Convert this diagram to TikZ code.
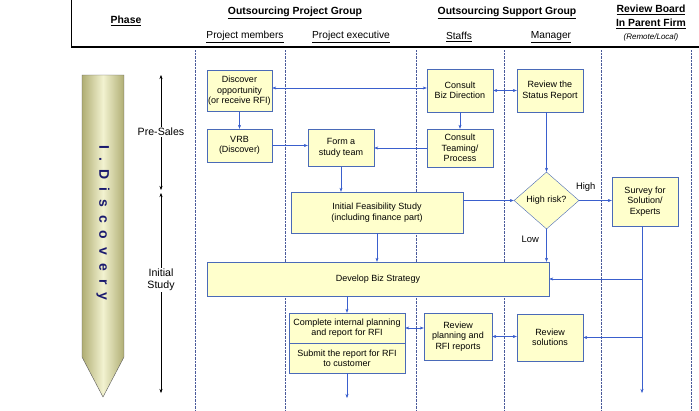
\documentclass[tikz,border=0pt]{standalone}
\usepackage{fontspec}
\setmainfont{Liberation Sans}
\usetikzlibrary{arrows.meta}
\usetikzlibrary{shapes.geometric}

\definecolor{boxfill}{HTML}{FFFFCC}
\definecolor{boxline}{HTML}{4A6AB8}
\definecolor{flowblue}{HTML}{3A5FCD}
\definecolor{laneline}{HTML}{4A5A9A}
\definecolor{pencildark}{HTML}{B0AE74}
\definecolor{pencillight}{HTML}{F2F2D0}
\definecolor{navytext}{HTML}{1A1A6E}

\tikzset{
  stepbox/.style={draw=boxline, fill=boxfill, align=center, inner sep=0pt,
    font=\fontsize{9}{10.4}\selectfont},
  flow/.style={draw=flowblue, -{Stealth[length=4pt,width=3pt]}},
  biflow/.style={draw=flowblue, {Stealth[length=4pt,width=3pt]}-{Stealth[length=4pt,width=3pt]}},
  lane/.style={laneline, densely dotted, thin},
  headtxt/.style={font=\fontsize{10.4}{12}\selectfont\bfseries},
  subtxt/.style={font=\fontsize{10.2}{12}\selectfont},
  rangetxt/.style={font=\fontsize{10.6}{12.5}\selectfont, fill=white, inner sep=1pt, align=center},
}

\begin{document}
\begin{tikzpicture}[x=1pt,y=-1pt]
        \useasboundingbox (0,0) rectangle (699,410);
        % header
        \draw[black] (71,0) -- (71,47);
        \draw[black, line width=1.6pt] (71,47) -- (699,47);
        \node[headtxt] (phase) at (126,21) {\underline{Phase}};
        \node[headtxt] (projgrp) at (295,13) {\underline{Outsourcing Project Group}};
        \node[headtxt] (suppgrp) at (507,13) {\underline{Outsourcing Support Group}};
        \node[headtxt] (board1) at (651,10) {\underline{Review Board}};
        \node[headtxt] (board2) at (651,24) {\underline{In Parent Firm}};
        \node[font=\fontsize{8}{9}\selectfont\itshape] (remote) at (651,37) {(Remote/Local)};
        \node[subtxt] (members) at (245,37) {\underline{Project members}};
        \node[subtxt] (exec) at (351,37) {\underline{Project executive}};
        \node[subtxt] (staffs) at (459,37) {\underline{Staffs}};
        \node[subtxt] (manager) at (551,37) {\underline{Manager}};
        % swim lanes
        \foreach \x in {195,285,416,504,601,691}
            \draw[lane] (\x,50) -- (\x,410);
        % phase pencil
        \shade[left color=pencildark, right color=pencildark, middle color=pencillight,
               draw=gray!70!black, thin]
            (82,75) -- (124,75) -- (124,357) -- (103,397) -- (82,357) -- cycle;
        \node[rotate=-90, text=navytext, font=\fontsize{14}{14}\selectfont\bfseries] (disco) at (103,223) {\spaceskip=8pt I . D i s c o v e r y};
        % phase ranges
        \node[rangetxt] (presales) at (161,132) {Pre-Sales};
        \coordinate (presales top) at (161,75);
        \coordinate (presales bot) at (161,190);
        \draw[-{Stealth[length=4pt,width=3pt]}] (presales) -- (presales top);
        \draw[-{Stealth[length=4pt,width=3pt]}] (presales) -- (presales bot);
        \node[rangetxt] (initial) at (161,280) {Initial\\Study};
        \coordinate (initial top) at (161,193);
        \coordinate (initial bot) at (161,393);
        \draw[-{Stealth[length=4pt,width=3pt]}] (initial) -- (initial top);
        \draw[-{Stealth[length=4pt,width=3pt]}] (initial) -- (initial bot);
        % boxes
        \node[stepbox, minimum width=65, minimum height=41] (disc) at (239.5,91) {Discover\\opportunity\\(or receive RFI)};
        \node[stepbox, minimum width=65, minimum height=33] (vrb) at (239.5,145.5) {VRB\\(Discover)};
        \node[stepbox, minimum width=66, minimum height=37] (team) at (341,148) {Form a\\study team};
        \node[stepbox, minimum width=66, minimum height=43] (cbiz) at (460,90.5) {Consult\\Biz Direction};
        \node[stepbox, minimum width=66, minimum height=43] (status) at (550,90.5) {Review the\\Status Report};
        \node[stepbox, minimum width=66, minimum height=38] (cteam) at (460,148) {Consult\\Teaming/\\Process};
        \node[stepbox, diamond, minimum width=65, minimum height=57] (risk) at (546.5,200.5) {High risk?};
        \node[stepbox, minimum width=66, minimum height=49] (survey) at (645,201.5) {Survey for\\Solution/\\Experts};
        \node[stepbox, minimum width=172, minimum height=41] (feas) at (377,212.5) {Initial Feasibility Study\\(including finance part)};
        \node[stepbox, minimum width=342, minimum height=34] (strat) at (378,279) {Develop Biz Strategy};
        \node[stepbox, minimum width=116, minimum height=30] (compl) at (347,328) {Complete internal planning\\and report for RFI};
        \node[stepbox, minimum width=116, minimum height=30] (subm) at (347,358) {Submit the report for RFI\\to customer};
        \node[stepbox, minimum width=68, minimum height=47] (revplan) at (458,336.5) {Review\\planning and\\RFI reports};
        \node[stepbox, minimum width=66, minimum height=47] (revsol) at (550,337.5) {Review\\solutions};
        % connectors
        \draw[biflow] ([yshift=3pt]disc.east) -- ([yshift=3pt]disc.east -| cbiz.west);
        \draw[biflow] (cbiz.east) -- (status.west);
        \draw[flow] (disc) -- (vrb);
        \draw[flow] (vrb.east) -- (vrb.east -| team.west);
        \draw[flow] (cteam.west) -- (cteam.west -| team.east);
        \draw[flow] (cbiz) -- (cteam);
        \draw[flow] (status.south -| risk.north) -- (risk.north);
        \draw[flow] (team.south) -- (team.south |- feas.north);
        \draw[flow] (risk.west -| feas.east) -- (risk.west);
        \draw[flow] (risk.east) -- (risk.east -| survey.west)
            node[pos=0.2, above=6pt, font=\fontsize{9.4}{11}\selectfont] (high) {High};
        \draw[flow] (risk.south) -- (risk.south |- strat.north)
            node[pos=0.3, left=4pt, font=\fontsize{9.4}{11}\selectfont] (low) {Low};
        \draw[flow] (feas.south) -- (feas.south |- strat.north);
        \coordinate (survey end) at (642,393);
        \draw[flow] (survey.south -| survey end) -- (survey end);
        \draw[flow] (strat.east -| survey end) -- (strat.east);
        \draw[flow] (revsol.east -| survey end) -- (revsol.east);
        \draw[flow] (compl.north |- strat.south) -- (compl.north);
        \draw[biflow] (compl.east) -- (compl.east -| revplan.west);
        \draw[biflow] (revplan.east) -- (revplan.east -| revsol.west);
        \coordinate (subm end) at (347,398);
        \draw[flow] (subm) -- (subm end);
\end{tikzpicture}
\end{document}
